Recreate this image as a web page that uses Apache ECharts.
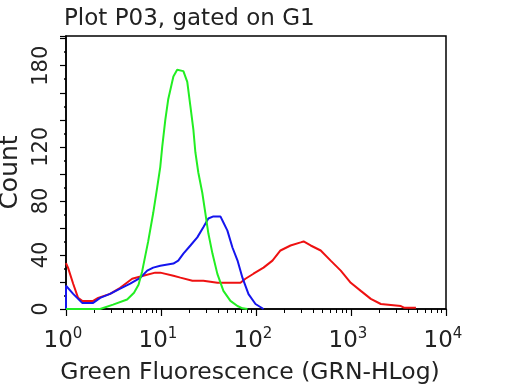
<!DOCTYPE html>
<html><head><meta charset="utf-8">
<script src="https://cdn.jsdelivr.net/npm/echarts@6/dist/echarts.min.js"></script>
<style>html,body{margin:0;padding:0;background:#fff}#c{width:512px;height:384px}</style>
</head><body><div id="c"></div>
<script>
// Data (fluorescence value, count)
const greenX = [1.0, 2.29, 3.13, 4.4, 5.2, 5.8, 6.34, 7.33, 8.28, 9.12, 9.82, 10.3, 11.1, 11.9, 13.5, 14.8, 17.2, 18.9, 20.4, 21.9, 23.0, 24.7, 27.2, 29.3, 31.5, 34.8, 39.2, 45.4, 53.8, 63.8, 72.1, 81.3];
const greenY = [0, 0, 3.2, 7, 12, 18, 28, 50, 71, 90, 105, 120, 140, 155, 172, 177, 176, 168, 150, 133, 116, 101, 86, 71, 56, 41, 26, 13.4, 6, 2.2, 0.5, 0];
const blueX = [1.0, 1.0, 1.19, 1.48, 1.93, 2.29, 2.91, 3.72, 4.74, 6.04, 7.16, 8.28, 9.82, 13.5, 15.2, 17.2, 20.4, 24.1, 27.9, 31.5, 35.6, 42.2, 45.4, 50.0, 56.5, 63.8, 72.1, 83.4, 98.8, 120];
const blueY = [0, 17.2, 11.2, 4.5, 4.5, 8.2, 11.2, 15, 18.7, 23, 28.4, 30.6, 32, 33.6, 35.8, 41, 47, 53, 60.5, 67, 68.5, 68.5, 64, 58, 45.5, 36, 23, 11, 3.7, 0];
const redX = [1.0, 1.05, 1.19, 1.34, 1.48, 1.93, 2.18, 2.91, 3.72, 4.97, 6.5, 8.69, 9.82, 13.5, 16.0, 21.4, 27.9, 39.2, 68.6, 77.4, 94.1, 120, 149, 181, 231, 295, 317, 376, 480, 611, 780, 994, 1268, 1616, 2060, 3350, 3605, 4825];
const redY = [34, 30.6, 18.7, 8.2, 6, 6, 8.2, 11.2, 15.7, 22.4, 24.6, 26.9, 26.9, 24.6, 23.2, 20.9, 20.9, 19.4, 19.4, 22.4, 26.1, 30.6, 35.8, 43.3, 47, 49.3, 50, 47, 43.3, 35.8, 28.4, 19.4, 13.4, 7.5, 3.7, 2.2, 1, 1];
const xMajorTicks = [1, 10, 100, 1000, 10000];
const xTickExponents = ['0', '1', '2', '3', '4'];
const xMinorTicks = [2,3,4,5,6,7,8,9,20,30,40,50,60,70,80,90,200,300,400,500,600,700,800,900,2000,3000,4000,5000,6000,7000,8000,9000];
const yTickLabels = [0, 40, 80, 120, 180];

function pairs(xs, ys) { return xs.map((x, i) => [x, ys[i]]); }
const FONT = 'DejaVu Sans';
const chart = echarts.init(document.getElementById('c'), null, {renderer: 'canvas'});
chart.setOption({
  animation: false,
  backgroundColor: '#fff',
  title: {text: 'Plot P03, gated on G1', left: 59, top: 3,
    textStyle: {fontFamily: FONT, fontSize: 23, fontWeight: 'normal', color: '#222'}},
  grid: {left: 66, right: 66, top: 36, bottom: 75, outerBoundsMode: 'none', containLabel: false,
    show: true, borderColor: '#000', borderWidth: 1.5, backgroundColor: 'transparent'},
  xAxis: [{
    type: 'log', logBase: 10, min: 1, max: 10000,
    name: 'Green Fluorescence (GRN-HLog)', nameLocation: 'middle', nameGap: 52,
    nameTextStyle: {fontFamily: FONT, fontSize: 23.5, color: '#222', padding: [0, 12, 0, 0]},
    axisLine: {lineStyle: {color: '#000', width: 1.5}},
    axisTick: {show: true, length: 7, lineStyle: {color: '#000', width: 1.2}, customValues: xMajorTicks},
    splitLine: {show: false},
    axisLabel: {margin: 19, customValues: xMajorTicks,
      formatter: function (v) { const i = xMajorTicks.indexOf(v); return '{b|10}{s|' + (i >= 0 ? xTickExponents[i] : '') + '}'; },
      rich: {b: {fontFamily: FONT, fontSize: 23, color: '#222', lineHeight: 26, padding: [0, 0, 0, 0]},
             s: {fontFamily: FONT, fontSize: 15, color: '#222', lineHeight: 26, padding: [0, 6, 13, 0]}}}
  }, {
    type: 'log', logBase: 10, min: 1, max: 10000, position: 'bottom',
    axisLine: {show: false}, axisLabel: {show: false}, splitLine: {show: false},
    axisTick: {show: true, length: 4, lineStyle: {color: '#000', width: 1}, customValues: xMinorTicks}
  }],
  yAxis: {
    type: 'value', min: 0, max: 202, interval: 20,
    name: 'Count', nameLocation: 'middle', nameGap: 28,
    nameTextStyle: {fontFamily: FONT, fontSize: 25, color: '#222'},
    axisLine: {show: true, lineStyle: {color: '#000', width: 1.5}},
    axisTick: {show: true, length: 6, lineStyle: {color: '#000', width: 1.2}},
    minorTick: {show: true, splitNumber: 2, length: 2, lineStyle: {color: '#000', width: 1.5}},
    splitLine: {show: false},
    axisLabel: {rotate: 90, margin: 14, fontFamily: FONT, fontSize: 21, color: '#222',
      formatter: function (v) { return yTickLabels.indexOf(v) >= 0 ? String(v) : ''; }}
  },
  series: [
    {type: 'line', data: pairs(redX, redY), symbol: 'none', lineStyle: {color: '#ee1111', width: 2}, z: 3},
    {type: 'line', data: pairs(blueX, blueY), symbol: 'none', lineStyle: {color: '#1515ee', width: 2}, z: 4},
    {type: 'line', data: pairs(greenX, greenY), symbol: 'none', lineStyle: {color: '#22ee22', width: 2}, z: 5}
  ]
});
</script></body></html>
